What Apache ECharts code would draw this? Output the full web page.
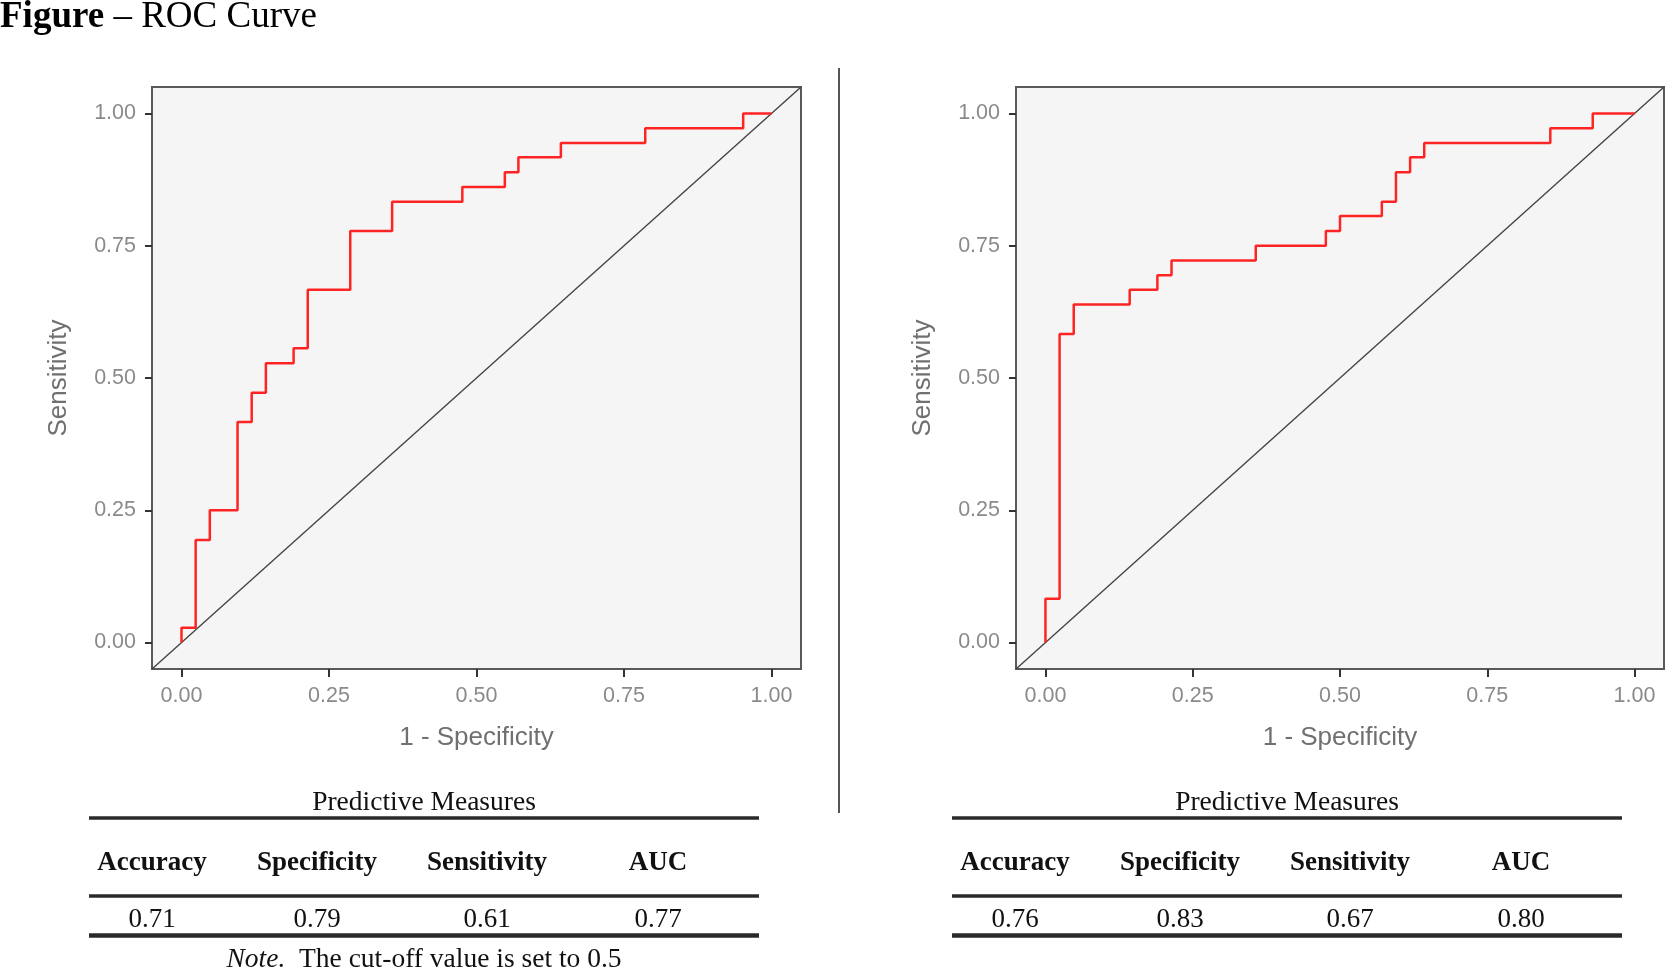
<!DOCTYPE html>
<html>
<head>
<meta charset="utf-8">
<script src="https://cdn.jsdelivr.net/npm/echarts@6/dist/echarts.min.js"></script>
<style>
html,body{margin:0;padding:0;background:#fff;}
#chart{width:1667px;height:969px;}
</style>
</head>
<body>
<div id="chart"></div>
<script>
// ---- Data ----
const tickValues = [0, 0.25, 0.5, 0.75, 1];
const tickLabels = ['0.00', '0.25', '0.50', '0.75', '1.00'];

const leftFpr  = [0, 0, 0.024, 0.048, 0.095, 0.119, 0.143, 0.190, 0.214, 0.286, 0.357, 0.476, 0.548, 0.571, 0.643, 0.786, 0.952, 1.0];
const leftTpr  = [0, 0.028, 0.194, 0.250, 0.417, 0.472, 0.528, 0.556, 0.667, 0.778, 0.833, 0.861, 0.889, 0.917, 0.944, 0.972, 1.0, 1.0];

const rightFpr = [0, 0, 0.024, 0.048, 0.143, 0.190, 0.214, 0.357, 0.476, 0.500, 0.571, 0.595, 0.619, 0.643, 0.857, 0.929, 1.0];
const rightTpr = [0, 0.083, 0.583, 0.639, 0.667, 0.694, 0.722, 0.750, 0.778, 0.806, 0.833, 0.889, 0.917, 0.944, 0.972, 1.0, 1.0];

const diagX = [-0.05, 1.05];
const diagY = [-0.05, 1.05];

const measureNames = ['Accuracy', 'Specificity', 'Sensitivity', 'AUC'];
const leftMeasures  = ['0.71', '0.79', '0.61', '0.77'];
const rightMeasures = ['0.76', '0.83', '0.67', '0.80'];

const titleBold = 'Figure';
const titleRest = ' – ROC Curve';
const tableTitle = 'Predictive Measures';
const noteItalic = 'Note.';
const noteText = '  The cut-off value is set to 0.5';
const xName = '1 - Specificity';
const yName = 'Sensitivity';

// ---- Build ----
const zip = (a, b) => a.map((v, i) => [v, b[i]]);
const sans = "'Liberation Sans', Arial, sans-serif";
const serif = "'Liberation Serif', 'Times New Roman', serif";

const grids = [
  {left: 152, top: 87, width: 649, height: 582},
  {left: 1016, top: 87, width: 648, height: 582}
];

function labelFmt(v){
  const i = tickValues.indexOf(Math.round(v * 100) / 100);
  return i >= 0 ? tickLabels[i] : '';
}

function xAxisFor(i){
  return {
    type: 'value', gridIndex: i, min: -0.05, max: 1.05,
    name: xName, nameLocation: 'middle', nameGap: 56,
    nameTextStyle: {color: '#707070', fontSize: 26, fontFamily: sans},
    axisLine: {show: false, onZero: false},
    axisTick: {show: true, inside: false, customValues: tickValues, length: 8, lineStyle: {color: '#333', width: 2}},
    axisLabel: {customValues: tickValues, formatter: labelFmt, color: '#8a8a8a', fontSize: 21.5, fontFamily: sans, margin: 16},
    splitLine: {show: false}
  };
}
function yAxisFor(i){
  return {
    type: 'value', gridIndex: i, min: -0.05, max: 1.05,
    name: yName, nameLocation: 'middle', nameGap: 80, nameRotate: 90,
    nameTextStyle: {color: '#707070', fontSize: 26, fontFamily: sans},
    axisLine: {show: false, onZero: false},
    axisTick: {show: true, inside: false, customValues: tickValues, length: 7, lineStyle: {color: '#333', width: 2}},
    axisLabel: {customValues: tickValues, formatter: labelFmt, color: '#8a8a8a', fontSize: 21.5, fontFamily: sans, margin: 16},
    splitLine: {show: false}
  };
}

function tableGraphics(x0, x1, centers, values, withNote){
  const els = [];
  const mid = (x0 + x1) / 2;
  els.push({type: 'text', x: mid, y: 803, style: {text: tableTitle, fill: '#111', font: '27.5px ' + serif, align: 'center', verticalAlign: 'middle'}});
  els.push({type: 'line', shape: {x1: x0, y1: 818, x2: x1, y2: 818}, style: {stroke: '#2a2a2a', lineWidth: 3.5}});
  measureNames.forEach((n, i) => {
    els.push({type: 'text', x: centers[i], y: 863, style: {text: n, fill: '#111', font: 'bold 27px ' + serif, align: 'center', verticalAlign: 'middle'}});
    els.push({type: 'text', x: centers[i], y: 920, style: {text: values[i], fill: '#111', font: '27px ' + serif, align: 'center', verticalAlign: 'middle'}});
  });
  els.push({type: 'line', shape: {x1: x0, y1: 896, x2: x1, y2: 896}, style: {stroke: '#2a2a2a', lineWidth: 3.5}});
  els.push({type: 'line', shape: {x1: x0, y1: 935.5, x2: x1, y2: 935.5}, style: {stroke: '#2a2a2a', lineWidth: 4.5}});
  if (withNote){
    els.push({type: 'text', x: mid, y: 960, style: {
      text: '{i|' + noteItalic + '}{r|' + noteText + '}',
      align: 'center', verticalAlign: 'middle',
      rich: {i: {font: 'italic 27.5px ' + serif, fill: '#111'}, r: {font: '27.5px ' + serif, fill: '#111'}}
    }});
  }
  return els;
}

const graphics = [
  {type: 'text', x: 0, y: 17, style: {
    text: '{b|' + titleBold + '}{r|' + titleRest + '}', verticalAlign: 'middle',
    rich: {b: {font: 'bold 37px ' + serif, fill: '#000'}, r: {font: '37px ' + serif, fill: '#000'}}
  }},
  {type: 'line', shape: {x1: 839, y1: 68, x2: 839, y2: 813}, style: {stroke: '#555', lineWidth: 2}},
  ...tableGraphics(89, 759, [152, 317, 487, 658], leftMeasures, true),
  ...tableGraphics(952, 1622, [1015, 1180, 1350, 1521], rightMeasures, false)
];

const chart = echarts.init(document.getElementById('chart'), null, {renderer: 'canvas'});
chart.setOption({
  animation: false,
  backgroundColor: '#fff',
  grid: grids.map(g => Object.assign({show: true, backgroundColor: '#f5f5f5', borderColor: '#5a5a5a', borderWidth: 2, containLabel: false}, g)),
  xAxis: [xAxisFor(0), xAxisFor(1)],
  yAxis: [yAxisFor(0), yAxisFor(1)],
  series: [
    {type: 'line', xAxisIndex: 0, yAxisIndex: 0, data: zip(diagX, diagY), symbol: 'none', lineStyle: {color: '#444', width: 1.4}, silent: true},
    {type: 'line', xAxisIndex: 0, yAxisIndex: 0, data: zip(leftFpr, leftTpr), step: 'end', symbol: 'none', lineStyle: {color: '#ff2424', width: 2.5}},
    {type: 'line', xAxisIndex: 1, yAxisIndex: 1, data: zip(diagX, diagY), symbol: 'none', lineStyle: {color: '#444', width: 1.4}, silent: true},
    {type: 'line', xAxisIndex: 1, yAxisIndex: 1, data: zip(rightFpr, rightTpr), step: 'end', symbol: 'none', lineStyle: {color: '#ff2424', width: 2.5}}
  ],
  graphic: graphics
});
</script>
</body>
</html>
